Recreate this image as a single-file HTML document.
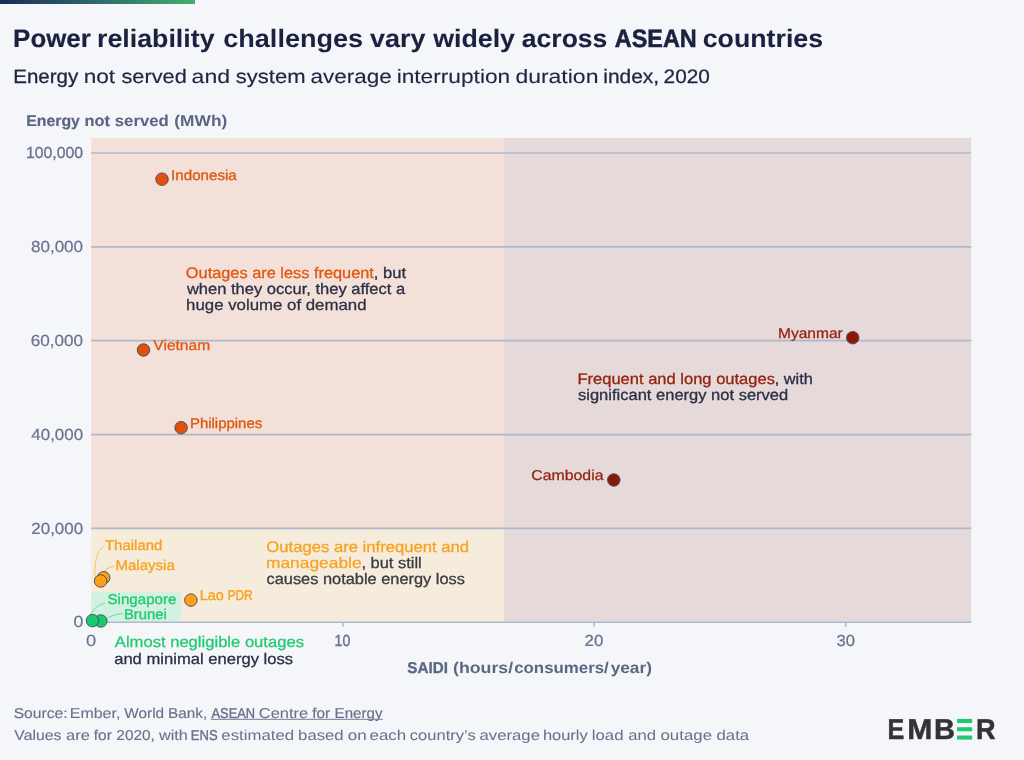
<!DOCTYPE html>
<html lang="en">
<head>
<meta charset="utf-8">
<title>Power reliability challenges vary widely across ASEAN countries</title>
<style>
  html, body { margin: 0; padding: 0; background: #f4f6fa; }
  body { width: 1024px; height: 760px; overflow: hidden; font-family: "Liberation Sans", sans-serif; }
  svg { display: block; will-change: transform; }
  svg text { font-family: "Liberation Sans", sans-serif; text-rendering: geometricPrecision; }
</style>
</head>
<body>
<svg width="1024" height="760" viewBox="0 0 1024 760" role="img" aria-label="Power reliability challenges vary widely across ASEAN countries">
  <defs>
    <linearGradient id="topbar" x1="0" y1="0" x2="1" y2="0">
      <stop offset="0" stop-color="#1b2a55"/>
      <stop offset="0.5" stop-color="#2f6a6e"/>
      <stop offset="1" stop-color="#41b06b"/>
    </linearGradient>
  </defs>
  <rect x="0" y="0" width="1024" height="760" fill="#f4f6fa"/>
  <rect x="0" y="0" width="195" height="4" fill="url(#topbar)"/>

  <!-- plot regions -->
  <rect x="91.2" y="138" width="412.7" height="390.400" fill="#f2e0d9"/>
  <rect x="503.9" y="138" width="467.3" height="484.250" fill="#e5d9d9"/>
  <rect x="91.2" y="528.400" width="412.7" height="93.850" fill="#f5ecdc"/>
  <rect x="91.2" y="592" width="89.5" height="30.250" fill="#d3f1e2"/>

  <!-- grid lines -->
  <g stroke="#b0b8ca" stroke-width="1.7">
    <line x1="91.2" y1="153" x2="971.2" y2="153"/>
    <line x1="91.2" y1="246.850" x2="971.2" y2="246.850"/>
    <line x1="91.2" y1="340.700" x2="971.2" y2="340.700"/>
    <line x1="91.2" y1="434.550" x2="971.2" y2="434.550"/>
    <line x1="91.2" y1="528.400" x2="971.2" y2="528.400"/>
    <line x1="91.2" y1="622.250" x2="971.2" y2="622.250"/>
  </g>
  <g stroke="#b0b8ca" stroke-width="1.6">
    <line x1="342.800" y1="622" x2="342.800" y2="626.800"/>
    <line x1="594.200" y1="622" x2="594.200" y2="626.800"/>
    <line x1="845.700" y1="622" x2="845.700" y2="626.800"/>
  </g>

  <!-- leader lines -->
  <g fill="none" stroke-width="1" stroke-opacity="0.6">
    <path d="M103.600 546.600 C 97.500 550.500, 94.600 559, 94.900 577.200" stroke="#f9a11f"/>
    <path d="M114.100 566.400 C 109.500 566.800, 106.300 568.600, 104.100 571.500" stroke="#f9a11f"/>
    <path d="M105.200 603.200 C 98 605, 93.500 609, 90.700 614" stroke="#24c972"/>
    <path d="M123 613.500 C 116 614, 110.500 616, 106.800 618.600" stroke="#24c972"/>
  </g>

  <!-- points -->
  <g stroke="#4a4f5c" stroke-width="0.95">
    <circle cx="162" cy="179.200" r="6.250" fill="#e2510a"/>
    <circle cx="143.500" cy="350" r="6.250" fill="#e2510a"/>
    <circle cx="181.100" cy="427.700" r="6.250" fill="#e2510a"/>
    <circle cx="852.700" cy="337.700" r="6.250" fill="#8c1707"/>
    <circle cx="613.800" cy="480" r="6.250" fill="#8c1707"/>
    <circle cx="103.700" cy="577.700" r="6.250" fill="#fba018"/>
    <circle cx="100.600" cy="581" r="6.250" fill="#fba018"/>
    <circle cx="190.900" cy="600.100" r="6.250" fill="#fba018"/>
    <circle cx="100.800" cy="621" r="6.250" fill="#16cb6c"/>
    <circle cx="92.500" cy="620.600" r="6.250" fill="#16cb6c"/>
  </g>

  <text y="47.00" font-size="25.2" font-weight="700" fill="#1b2240">
    <tspan x="13.13" textLength="77.67" lengthAdjust="spacingAndGlyphs" stroke="#1b2240" stroke-width="0.21">Power</tspan> <tspan x="97.02" textLength="117.50" lengthAdjust="spacingAndGlyphs" stroke="#1b2240" stroke-width="0.07">reliability</tspan> <tspan x="223.25" textLength="139.83" lengthAdjust="spacingAndGlyphs">challenges</tspan> <tspan x="369.98" textLength="55.54" lengthAdjust="spacingAndGlyphs" stroke="#1b2240" stroke-width="0.09">vary</tspan> <tspan x="433.22" textLength="81.79" lengthAdjust="spacingAndGlyphs" stroke="#1b2240" stroke-width="0.09">widely</tspan> <tspan x="521.83" textLength="85.49" lengthAdjust="spacingAndGlyphs" stroke="#1b2240" stroke-width="0.11">across</tspan> <tspan x="614.83" textLength="81.94" lengthAdjust="spacingAndGlyphs" stroke="#1b2240" stroke-width="0.55">ASEAN</tspan> <tspan x="702.74" textLength="120.33" lengthAdjust="spacingAndGlyphs" stroke="#1b2240" stroke-width="0.07">countries</tspan>
  </text>
  <text y="83.00" font-size="19.4" font-weight="400" fill="#1f2643">
    <tspan x="13.27" textLength="64.91" lengthAdjust="spacingAndGlyphs" stroke="#1f2643" stroke-width="0.33">Energy</tspan> <tspan x="83.66" textLength="31.48" lengthAdjust="spacingAndGlyphs" stroke="#1f2643" stroke-width="0.14">not</tspan> <tspan x="121.50" textLength="65.22" lengthAdjust="spacingAndGlyphs" stroke="#1f2643" stroke-width="0.21">served</tspan> <tspan x="191.64" textLength="38.56" lengthAdjust="spacingAndGlyphs" stroke="#1f2643" stroke-width="0.1">and</tspan> <tspan x="235.75" textLength="69.73" lengthAdjust="spacingAndGlyphs" stroke="#1f2643" stroke-width="0.19">system</tspan> <tspan x="310.41" textLength="81.25" lengthAdjust="spacingAndGlyphs" stroke="#1f2643" stroke-width="0.14">average</tspan> <tspan x="396.66" textLength="113.51" lengthAdjust="spacingAndGlyphs" stroke="#1f2643" stroke-width="0.12">interruption</tspan> <tspan x="515.40" textLength="83.03" lengthAdjust="spacingAndGlyphs" stroke="#1f2643" stroke-width="0.1">duration</tspan> <tspan x="603.25" textLength="55.92" lengthAdjust="spacingAndGlyphs" stroke="#1f2643" stroke-width="0.28">index,</tspan> <tspan x="663.63" textLength="46.25" lengthAdjust="spacingAndGlyphs" stroke="#1f2643" stroke-width="0.3">2020</tspan>
  </text>
  <text y="126.00" font-size="15.7" font-weight="700" fill="#5b6684">
    <tspan x="26.15" textLength="53.75" lengthAdjust="spacingAndGlyphs" stroke="#5b6684" stroke-width="0.18">Energy</tspan> <tspan x="84.62" textLength="25.42" lengthAdjust="spacingAndGlyphs" stroke="#5b6684" stroke-width="0.13">not</tspan> <tspan x="114.82" textLength="53.97" lengthAdjust="spacingAndGlyphs" stroke="#5b6684" stroke-width="0.06">served</tspan> <tspan x="174.33" textLength="52.92" lengthAdjust="spacingAndGlyphs">(MWh)</tspan>
  </text>
  <text y="673.00" font-size="15.7" font-weight="700" fill="#5b6684">
    <tspan x="407.33" textLength="40.53" lengthAdjust="spacingAndGlyphs" stroke="#5b6684" stroke-width="0.28">SAIDI</tspan> <tspan x="453.00" textLength="60.11" lengthAdjust="spacingAndGlyphs">(hours/</tspan><tspan x="514.17" textLength="94.65" lengthAdjust="spacingAndGlyphs">consumers/</tspan><tspan x="610.66" textLength="41.25" lengthAdjust="spacingAndGlyphs">year)</tspan>
  </text>
  <text y="158.00" font-size="16" font-weight="400" fill="#69738f">
    <tspan x="26.02" textLength="56.89" lengthAdjust="spacingAndGlyphs" stroke="#69738f" stroke-width="0.33">100,000</tspan>
  </text>
  <text y="252.00" font-size="16" font-weight="400" fill="#69738f">
    <tspan x="30.99" textLength="52.08" lengthAdjust="spacingAndGlyphs" stroke="#69738f" stroke-width="0.21">80,000</tspan>
  </text>
  <text y="346.00" font-size="16" font-weight="400" fill="#69738f">
    <tspan x="30.82" textLength="52.26" lengthAdjust="spacingAndGlyphs" stroke="#69738f" stroke-width="0.21">60,000</tspan>
  </text>
  <text y="440.00" font-size="16" font-weight="400" fill="#69738f">
    <tspan x="31.33" textLength="51.74" lengthAdjust="spacingAndGlyphs" stroke="#69738f" stroke-width="0.22">40,000</tspan>
  </text>
  <text y="534.00" font-size="16" font-weight="400" fill="#69738f">
    <tspan x="31.32" textLength="51.76" lengthAdjust="spacingAndGlyphs" stroke="#69738f" stroke-width="0.22">20,000</tspan>
  </text>
  <text y="627.00" font-size="16" font-weight="400" fill="#69738f">
    <tspan x="73.59" textLength="9.88" lengthAdjust="spacingAndGlyphs" stroke="#69738f" stroke-width="0.18">0</tspan>
  </text>
  <text y="646.00" font-size="16" font-weight="400" fill="#69738f">
    <tspan x="86.09" textLength="10.21" lengthAdjust="spacingAndGlyphs" stroke="#69738f" stroke-width="0.14">0</tspan>
  </text>
  <text y="646.00" font-size="16" font-weight="400" fill="#69738f">
    <tspan x="334.62" textLength="15.63" lengthAdjust="spacingAndGlyphs" stroke="#69738f" stroke-width="0.45">10</tspan>
  </text>
  <text y="646.00" font-size="16" font-weight="400" fill="#69738f">
    <tspan x="584.63" textLength="18.63" lengthAdjust="spacingAndGlyphs" stroke="#69738f" stroke-width="0.24">20</tspan>
  </text>
  <text y="646.00" font-size="16" font-weight="400" fill="#69738f">
    <tspan x="836.48" textLength="18.45" lengthAdjust="spacingAndGlyphs" stroke="#69738f" stroke-width="0.27">30</tspan>
  </text>
  <text y="180.00" font-size="14.3" font-weight="400" fill="#e2560f">
    <tspan x="171.11" textLength="65.67" lengthAdjust="spacingAndGlyphs" stroke="#e2560f" stroke-width="0.32">Indonesia</tspan>
  </text>
  <text y="350.00" font-size="14.3" font-weight="400" fill="#e2560f">
    <tspan x="153.33" textLength="56.83" lengthAdjust="spacingAndGlyphs" stroke="#e2560f" stroke-width="0.28">Vietnam</tspan>
  </text>
  <text y="428.00" font-size="14.3" font-weight="400" fill="#e2560f">
    <tspan x="189.96" textLength="72.20" lengthAdjust="spacingAndGlyphs" stroke="#e2560f" stroke-width="0.34">Philippines</tspan>
  </text>
  <text y="338.00" font-size="14.3" font-weight="400" fill="#95220f">
    <tspan x="777.91" textLength="64.91" lengthAdjust="spacingAndGlyphs" stroke="#95220f" stroke-width="0.27">Myanmar</tspan>
  </text>
  <text y="480.00" font-size="14.3" font-weight="400" fill="#95220f">
    <tspan x="531.33" textLength="72.12" lengthAdjust="spacingAndGlyphs" stroke="#95220f" stroke-width="0.25">Cambodia</tspan>
  </text>
  <text y="550.00" font-size="14.3" font-weight="400" fill="#f9a11f">
    <tspan x="105.00" textLength="57.30" lengthAdjust="spacingAndGlyphs" stroke="#f9a11f" stroke-width="0.33">Thailand</tspan>
  </text>
  <text y="570.00" font-size="14.3" font-weight="400" fill="#f9a11f">
    <tspan x="115.45" textLength="59.33" lengthAdjust="spacingAndGlyphs" stroke="#f9a11f" stroke-width="0.32">Malaysia</tspan>
  </text>
  <text y="600.00" font-size="14.3" font-weight="400" fill="#f9a11f">
    <tspan x="199.83" textLength="23.96" lengthAdjust="spacingAndGlyphs" stroke="#f9a11f" stroke-width="0.38">Lao</tspan> <tspan x="227.67" textLength="24.93" lengthAdjust="spacingAndGlyphs" stroke="#f9a11f" stroke-width="0.45">PDR</tspan>
  </text>
  <text y="604.00" font-size="14.3" font-weight="400" fill="#24c972">
    <tspan x="107.49" textLength="68.96" lengthAdjust="spacingAndGlyphs" stroke="#24c972" stroke-width="0.32">Singapore</tspan>
  </text>
  <text y="619.00" font-size="14.3" font-weight="400" fill="#24c972">
    <tspan x="123.96" textLength="42.90" lengthAdjust="spacingAndGlyphs" stroke="#24c972" stroke-width="0.34">Brunei</tspan>
  </text>
  <text y="278.00" font-size="15.3" font-weight="400" fill="#e2560f">
    <tspan x="185.83" textLength="188.04" lengthAdjust="spacingAndGlyphs" stroke="#e2560f" stroke-width="0.3">Outages are less frequent</tspan><tspan x="373.75" textLength="32.29" lengthAdjust="spacingAndGlyphs" fill="#2b2f45" stroke="#2b2f45" stroke-width="0.29">, but</tspan> <tspan x="186.91" textLength="218.23" lengthAdjust="spacingAndGlyphs" y="294.00" fill="#2b2f45" stroke="#2b2f45" stroke-width="0.29">when they occur, they affect a</tspan> <tspan x="186.07" textLength="180.49" lengthAdjust="spacingAndGlyphs" y="310.00" fill="#2b2f45" stroke="#2b2f45" stroke-width="0.26">huge volume of demand</tspan>
  </text>
  <text y="384.00" font-size="15.3" font-weight="400" fill="#95220f">
    <tspan x="577.42" textLength="197.54" lengthAdjust="spacingAndGlyphs" stroke="#95220f" stroke-width="0.29">Frequent and long outages</tspan><tspan x="774.76" textLength="38.11" lengthAdjust="spacingAndGlyphs" fill="#2b2f45" stroke="#2b2f45" stroke-width="0.31">, with</tspan> <tspan x="578.00" textLength="210.22" lengthAdjust="spacingAndGlyphs" y="400.00" fill="#2b2f45" stroke="#2b2f45" stroke-width="0.29">significant energy not served</tspan>
  </text>
  <text y="552.00" font-size="15.3" font-weight="400" fill="#f9a11f">
    <tspan x="266.33" textLength="202.72" lengthAdjust="spacingAndGlyphs" stroke="#f9a11f" stroke-width="0.27">Outages are infrequent and</tspan> <tspan x="266.03" textLength="95.54" lengthAdjust="spacingAndGlyphs" y="568.00" stroke="#f9a11f" stroke-width="0.21">manageable</tspan><tspan x="361.42" textLength="60.34" lengthAdjust="spacingAndGlyphs" y="568.00" fill="#3b3b43" stroke="#3b3b43" stroke-width="0.29">, but still</tspan> <tspan x="266.50" textLength="198.47" lengthAdjust="spacingAndGlyphs" y="584.00" fill="#3b3b43" stroke="#3b3b43" stroke-width="0.3">causes notable energy loss</tspan>
  </text>
  <text y="647.00" font-size="15.3" font-weight="400" fill="#24c972">
    <tspan x="114.83" textLength="189.12" lengthAdjust="spacingAndGlyphs" stroke="#24c972" stroke-width="0.28">Almost negligible outages</tspan> <tspan x="114.16" textLength="178.96" lengthAdjust="spacingAndGlyphs" y="664.00" fill="#2b2f45" stroke="#2b2f45" stroke-width="0.28">and minimal energy loss</tspan>
  </text>
  <text y="718.00" font-size="14.3" font-weight="400" fill="#69718a">
    <tspan x="13.66" textLength="54.00" lengthAdjust="spacingAndGlyphs" stroke="#69718a" stroke-width="0.13">Source:</tspan> <tspan x="69.71" textLength="50.71" lengthAdjust="spacingAndGlyphs" stroke="#69718a" stroke-width="0.09">Ember,</tspan> <tspan x="124.34" textLength="39.80" lengthAdjust="spacingAndGlyphs" stroke="#69718a" stroke-width="0.16">World</tspan> <tspan x="168.10" textLength="39.11" lengthAdjust="spacingAndGlyphs" stroke="#69718a" stroke-width="0.16">Bank,</tspan> <tspan x="211.50" textLength="43.63" lengthAdjust="spacingAndGlyphs" stroke="#69718a" stroke-width="0.38">ASEAN</tspan> <tspan x="258.81" textLength="49.32" lengthAdjust="spacingAndGlyphs" stroke="#69718a" stroke-width="0.05">Centre</tspan> <tspan x="312.16" textLength="17.92" lengthAdjust="spacingAndGlyphs" stroke="#69718a" stroke-width="0.17">for</tspan> <tspan x="334.61" textLength="47.84" lengthAdjust="spacingAndGlyphs" stroke="#69718a" stroke-width="0.17">Energy</tspan>
  </text>
  <text y="740.00" font-size="14.3" font-weight="400" fill="#69718a">
    <tspan x="14.33" textLength="47.00" lengthAdjust="spacingAndGlyphs" stroke="#69718a" stroke-width="0.12">Values</tspan> <tspan x="65.97" textLength="23.84" lengthAdjust="spacingAndGlyphs" stroke="#69718a" stroke-width="0.06">are</tspan> <tspan x="93.83" textLength="17.92" lengthAdjust="spacingAndGlyphs" stroke="#69718a" stroke-width="0.16">for</tspan> <tspan x="116.32" textLength="38.57" lengthAdjust="spacingAndGlyphs" stroke="#69718a" stroke-width="0.15">2020,</tspan> <tspan x="158.90" textLength="28.94" lengthAdjust="spacingAndGlyphs" stroke="#69718a" stroke-width="0.08">with</tspan> <tspan x="190.75" textLength="26.91" lengthAdjust="spacingAndGlyphs" stroke="#69718a" stroke-width="0.36">ENS</tspan> <tspan x="221.33" textLength="72.88" lengthAdjust="spacingAndGlyphs">estimated</tspan> <tspan x="298.12" textLength="45.53" lengthAdjust="spacingAndGlyphs" stroke="#69718a" stroke-width="0.03">based</tspan> <tspan x="347.78" textLength="18.91" lengthAdjust="spacingAndGlyphs" stroke="#69718a" stroke-width="0.03">on</tspan> <tspan x="369.47" textLength="36.85" lengthAdjust="spacingAndGlyphs" stroke="#69718a" stroke-width="0.01">each</tspan> <tspan x="409.83" textLength="65.85" lengthAdjust="spacingAndGlyphs" stroke="#69718a" stroke-width="0.04">country’s</tspan> <tspan x="479.49" textLength="60.47" lengthAdjust="spacingAndGlyphs" stroke="#69718a" stroke-width="0.02">average</tspan> <tspan x="542.96" textLength="44.76" lengthAdjust="spacingAndGlyphs" stroke="#69718a" stroke-width="0.06">hourly</tspan> <tspan x="591.77" textLength="31.73" lengthAdjust="spacingAndGlyphs" stroke="#69718a" stroke-width="0.02">load</tspan> <tspan x="628.32" textLength="27.82" lengthAdjust="spacingAndGlyphs">and</tspan> <tspan x="660.48" textLength="51.64" lengthAdjust="spacingAndGlyphs" stroke="#69718a" stroke-width="0.01">outage</tspan> <tspan x="716.50" textLength="32.62" lengthAdjust="spacingAndGlyphs">data</tspan>
  </text>
  <text y="739.00" font-size="28.7" font-weight="700" fill="#333336">
    <tspan x="887.41" textLength="16.75" lengthAdjust="spacingAndGlyphs" stroke="#333336" stroke-width="0.5">E</tspan><tspan x="907.27" textLength="25.04" lengthAdjust="spacingAndGlyphs" stroke="#333336" stroke-width="0.5">M</tspan><tspan x="934.13" textLength="20.95" lengthAdjust="spacingAndGlyphs" stroke="#333336" stroke-width="0.5">B</tspan>
  </text>
  <text y="739.00" font-size="28.7" font-weight="700" fill="#333336">
    <tspan x="976.02" textLength="19.57" lengthAdjust="spacingAndGlyphs" stroke="#333336" stroke-width="0.5">R</tspan>
  </text>
  <line x1="210.7" y1="719.3" x2="382.8" y2="719.3" stroke="#747c93" stroke-width="1"/>

  <!-- EMBER logo: green bars stand for the second E -->
  <g aria-label="EMBER" fill="#1fc973">
    <title>EMBER</title>
    <rect x="957.1" y="718.9" width="15.1" height="4.1"/>
    <rect x="957.1" y="727.2" width="15.1" height="4.1"/>
    <rect x="957.1" y="735.5" width="15.1" height="4.1"/>
  </g>
</svg>
</body>
</html>
